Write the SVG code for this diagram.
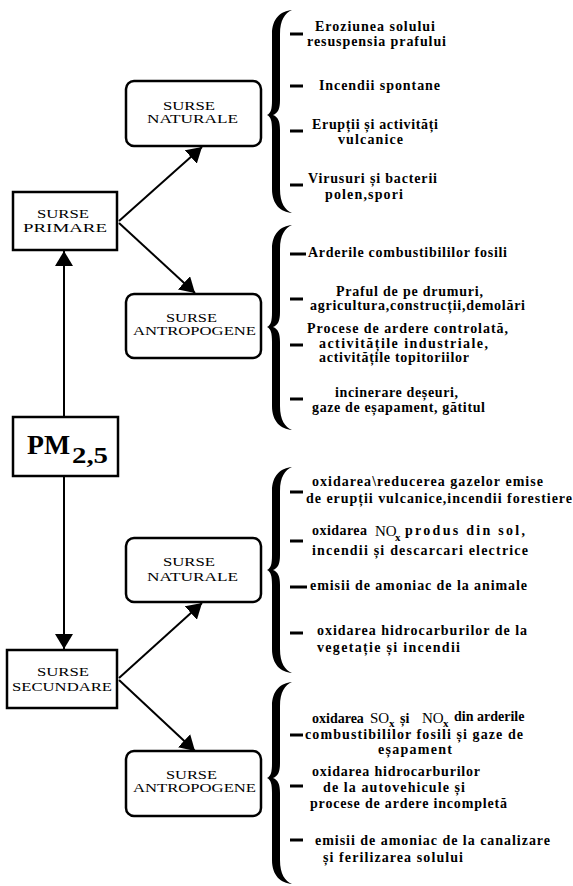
<svg xmlns="http://www.w3.org/2000/svg" width="573" height="886" viewBox="0 0 573 886">
<style>
.box{fill:#fff;stroke:#000;stroke-width:2.5}
.nt{font-family:"Liberation Serif","Times New Roman",serif;font-size:13px;fill:#000}
.t{font-family:"Liberation Serif","Times New Roman",serif;font-size:14px;font-weight:bold;fill:#000}
.big{font-size:15px;font-weight:normal}
.sub{font-size:11px}
.dash{stroke:#000;stroke-width:3}
.brace{fill:#000}
.conn{stroke:#000;stroke-width:2;fill:none}
</style>
<defs>
<marker id="ah" markerUnits="userSpaceOnUse" markerWidth="16" markerHeight="18" refX="15" refY="9" orient="auto">
<path d="M0,0 L15,9 L0,18 z" fill="#000"/>
</marker>
</defs>

<g id="connectors">
<line class="conn" x1="64" y1="417" x2="64" y2="251" marker-end="url(#ah)"/>
<line class="conn" x1="64" y1="476" x2="64" y2="649" marker-end="url(#ah)"/>
<line class="conn" x1="119" y1="221" x2="202" y2="147" marker-end="url(#ah)"/>
<line class="conn" x1="119" y1="223" x2="195" y2="293" marker-end="url(#ah)"/>
<line class="conn" x1="119" y1="678" x2="202" y2="603" marker-end="url(#ah)"/>
<line class="conn" x1="119" y1="680" x2="195" y2="751" marker-end="url(#ah)"/>
</g>

<g id="pm">
<rect class="box" x="13" y="417" width="105" height="59"/>
<text class="t" x="27" y="454" textLength="43" lengthAdjust="spacingAndGlyphs" style="font-size:28px">PM</text>
<text class="t" x="72" y="463" textLength="36" lengthAdjust="spacingAndGlyphs" style="font-size:24px">2,5</text>
</g>

<g id="primare">
<rect class="box" x="13" y="192" width="104" height="58"/>
<text class="nt" x="37" y="218" textLength="52" lengthAdjust="spacingAndGlyphs">SURSE</text>
<text class="nt" x="23" y="232" textLength="84" lengthAdjust="spacingAndGlyphs">PRIMARE</text>
</g>

<g id="secundare">
<rect class="box" x="7" y="650" width="110" height="58"/>
<text class="nt" x="37" y="676" textLength="52" lengthAdjust="spacingAndGlyphs">SURSE</text>
<text class="nt" x="12" y="691" textLength="100" lengthAdjust="spacingAndGlyphs">SECUNDARE</text>
</g>

<g id="naturale1">
<rect class="box" x="126" y="81" width="135" height="65" rx="8"/>
<text class="nt" x="163" y="110" textLength="52" lengthAdjust="spacingAndGlyphs">SURSE</text>
<text class="nt" x="147" y="123" textLength="91" lengthAdjust="spacingAndGlyphs">NATURALE</text>
</g>

<g id="antropogene1">
<rect class="box" x="126" y="294" width="135" height="64" rx="8"/>
<text class="nt" x="166" y="322" textLength="51" lengthAdjust="spacingAndGlyphs">SURSE</text>
<text class="nt" x="133" y="335" textLength="123" lengthAdjust="spacingAndGlyphs">ANTROPOGENE</text>
</g>

<g id="naturale2">
<rect class="box" x="126" y="538" width="135" height="64" rx="8"/>
<text class="nt" x="163" y="566" textLength="52" lengthAdjust="spacingAndGlyphs">SURSE</text>
<text class="nt" x="147" y="581" textLength="91" lengthAdjust="spacingAndGlyphs">NATURALE</text>
</g>

<g id="antropogene2">
<rect class="box" x="126" y="751" width="135" height="65" rx="8"/>
<text class="nt" x="166" y="779" textLength="51" lengthAdjust="spacingAndGlyphs">SURSE</text>
<text class="nt" x="133" y="792" textLength="123" lengthAdjust="spacingAndGlyphs">ANTROPOGENE</text>
</g>

<g id="list1">
<path class="brace" d="M292 10 C281 11,272 18,272 34 L272 100 C272 109,271 113,267 115 C271 117,272 121,272 130 L272 189 C272 205,281 212,292 213 C285 210,280 203,280 189 L280 130 C280 121,278 117,273 115 C278 113,280 109,280 100 L280 34 C280 20,285 13,292 10 Z"/>
<line class="dash" x1="290" y1="34" x2="303" y2="34"/>
<line class="dash" x1="290" y1="86" x2="303" y2="86"/>
<line class="dash" x1="290" y1="131" x2="303" y2="131"/>
<line class="dash" x1="290" y1="185" x2="303" y2="185"/>
<text class="t" x="315" y="31" textLength="120" lengthAdjust="spacing">Eroziunea solului</text>
<text class="t" x="307" y="46" textLength="139" lengthAdjust="spacing">resuspensia prafului</text>
<text class="t" x="319" y="90" textLength="121" lengthAdjust="spacing">Incendii spontane</text>
<text class="t" x="312" y="129" textLength="126" lengthAdjust="spacing">Erupții și activități</text>
<text class="t" x="338" y="144" textLength="65" lengthAdjust="spacing">vulcanice</text>
<text class="t" x="308" y="183" textLength="129" lengthAdjust="spacing">Virusuri și bacterii</text>
<text class="t" x="325" y="199" textLength="78" lengthAdjust="spacing">polen,spori</text>
</g>

<g id="list2">
<path class="brace" d="M292 225 C281 226,272 233,272 249 L272 312 C272 321,271 325,267 327 C271 329,272 333,272 342 L272 406 C272 422,281 429,292 430 C285 427,280 420,280 406 L280 342 C280 333,278 329,273 327 C278 325,280 321,280 312 L280 249 C280 235,285 228,292 225 Z"/>
<line class="dash" x1="290" y1="254" x2="306" y2="254"/>
<line class="dash" x1="290" y1="299" x2="303" y2="299"/>
<line class="dash" x1="290" y1="345" x2="303" y2="345"/>
<line class="dash" x1="290" y1="399" x2="303" y2="399"/>
<text class="t" x="308" y="257" textLength="199" lengthAdjust="spacing">Arderile combustibililor fosili</text>
<text class="t" x="336" y="296" textLength="147" lengthAdjust="spacing">Praful de pe drumuri,</text>
<text class="t" x="310" y="310" textLength="215" lengthAdjust="spacing">agricultura,construcții,demolări</text>
<text class="t" x="307" y="333" textLength="201" lengthAdjust="spacing">Procese de ardere controlată,</text>
<text class="t" x="319" y="348" textLength="169" lengthAdjust="spacing">activitățile industriale,</text>
<text class="t" x="319" y="362" textLength="150" lengthAdjust="spacing">activitățile topitoriilor</text>
<text class="t" x="335" y="397" textLength="123" lengthAdjust="spacing">incinerare deșeuri,</text>
<text class="t" x="312" y="412" textLength="173" lengthAdjust="spacing">gaze de eșapament, gătitul</text>
</g>

<g id="list3">
<path class="brace" d="M292 467 C281 468,272 475,272 491 L272 555 C272 564,271 568,267 570 C271 572,272 576,272 585 L272 649 C272 665,281 672,292 673 C285 670,280 663,280 649 L280 585 C280 576,278 572,273 570 C278 568,280 564,280 555 L280 491 C280 477,285 470,292 467 Z"/>
<line class="dash" x1="290" y1="492" x2="303" y2="492"/>
<line class="dash" x1="290" y1="541" x2="303" y2="541"/>
<line class="dash" x1="290" y1="587" x2="307" y2="587"/>
<line class="dash" x1="290" y1="633" x2="303" y2="633"/>
<text class="t" x="312" y="486" textLength="231" lengthAdjust="spacing">oxidarea\reducerea gazelor emise</text>
<text class="t" x="306" y="503" textLength="266" lengthAdjust="spacing">de erupții vulcanice,incendii forestiere</text>
<text class="t" y="535"><tspan x="312" textLength="55" lengthAdjust="spacing">oxidarea</tspan><tspan class="big" x="375" y="536">NO</tspan><tspan class="sub" x="395" y="541">x</tspan><tspan x="405" y="535" textLength="120" lengthAdjust="spacing">produs din sol,</tspan></text>
<text class="t" x="312" y="555" textLength="216" lengthAdjust="spacing">incendii și descarcari electrice</text>
<text class="t" x="310" y="590" textLength="217" lengthAdjust="spacing">emisii de amoniac de la animale</text>
<text class="t" x="317" y="635" textLength="210" lengthAdjust="spacing">oxidarea hidrocarburilor de la</text>
<text class="t" x="317" y="652" textLength="143" lengthAdjust="spacing">vegetație și incendii</text>
</g>

<g id="list4">
<path class="brace" d="M292 682 C281 683,272 690,272 706 L272 763 C272 772,271 776,267 778 C271 780,272 784,272 793 L272 860 C272 876,281 883,292 884 C285 881,280 874,280 860 L280 793 C280 784,278 780,273 778 C278 776,280 772,280 763 L280 706 C280 692,285 685,292 682 Z"/>
<line class="dash" x1="290" y1="735" x2="303" y2="735"/>
<line class="dash" x1="290" y1="786" x2="303" y2="786"/>
<line class="dash" x1="290" y1="840" x2="303" y2="840"/>
<text class="t" y="723"><tspan x="312">oxidarea</tspan><tspan class="big" x="370">SO</tspan><tspan class="sub" x="389" y="727">x</tspan><tspan x="400" y="723">și</tspan><tspan class="big" x="422">NO</tspan><tspan class="sub" x="443" y="727">x</tspan><tspan x="454" y="721">din arderile</tspan></text>
<text class="t" x="305" y="739" textLength="218" lengthAdjust="spacing">combustibililor fosili și gaze de</text>
<text class="t" x="378" y="754" textLength="74" lengthAdjust="spacing">eșapament</text>
<text class="t" x="312" y="776" textLength="168" lengthAdjust="spacing">oxidarea hidrocarburilor</text>
<text class="t" x="323" y="792" textLength="142" lengthAdjust="spacing">de la autovehicule și</text>
<text class="t" x="310" y="808" textLength="197" lengthAdjust="spacing">procese de ardere incompletă</text>
<text class="t" x="315" y="845" textLength="235" lengthAdjust="spacing">emisii de amoniac de la canalizare</text>
<text class="t" x="323" y="862" textLength="140" lengthAdjust="spacing">și ferilizarea solului</text>
</g>
</svg>
